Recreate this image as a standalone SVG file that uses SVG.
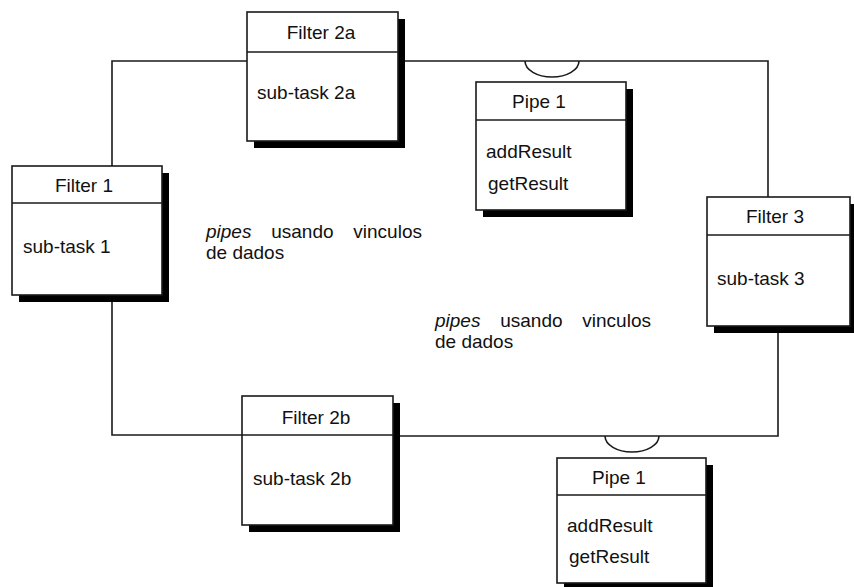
<svg xmlns="http://www.w3.org/2000/svg" width="854" height="587" viewBox="0 0 854 587">
<style>
.box{fill:#fff;stroke:#1a1a1a;stroke-width:1.6}
.sh{fill:#000}
.sep{stroke:#1a1a1a;stroke-width:1.6}
.t{font-family:"Liberation Sans",Arial,sans-serif;font-size:19px;fill:#111}
.c{text-anchor:middle}
.ln{fill:none;stroke:#1a1a1a;stroke-width:1.6}
.w{word-spacing:14.5px}
</style>
<rect width="854" height="587" fill="#fff"/>
<g id="connectors">
<polyline class="ln" points="112,166 112,61 247,61"/>
<polyline class="ln" points="398,61 768,61 768,197"/>
<path class="ln" d="M525,61 A27,16 0 0 0 579,61"/>
<polyline class="ln" points="112,302 112,435 242,435"/>
<polyline class="ln" points="400,436 778,436 778,333"/>
<path class="ln" d="M605,436 A27,16 0 0 0 659,436"/>
</g>
<g id="filter2a">
<rect class="sh" x="254" y="19" width="151" height="129"/>
<rect class="box" x="247" y="12" width="151" height="129"/>
<line class="sep" x1="247" y1="52" x2="398" y2="52"/>
<text class="t c" x="321" y="39">Filter 2a</text>
<text class="t" x="257" y="99">sub-task 2a</text>
</g>
<g id="pipe1a">
<rect class="sh" x="483" y="89" width="150" height="128"/>
<rect class="box" x="476" y="82" width="150" height="128"/>
<line class="sep" x1="476" y1="120" x2="626" y2="120"/>
<text class="t c" x="539" y="108">Pipe 1</text>
<text class="t" x="486" y="158">addResult</text>
<text class="t" x="488" y="190">getResult</text>
</g>
<g id="filter1">
<rect class="sh" x="19" y="173" width="150" height="129"/>
<rect class="box" x="12" y="166" width="150" height="129"/>
<line class="sep" x1="12" y1="203" x2="162" y2="203"/>
<text class="t c" x="84" y="192">Filter 1</text>
<text class="t" x="23" y="253">sub-task 1</text>
</g>
<g id="filter3">
<rect class="sh" x="714" y="204" width="143" height="129"/>
<rect class="box" x="707" y="197" width="143" height="129"/>
<line class="sep" x1="707" y1="235" x2="850" y2="235"/>
<text class="t c" x="775" y="223">Filter 3</text>
<text class="t" x="717" y="285">sub-task 3</text>
</g>
<g id="filter2b">
<rect class="sh" x="249" y="403" width="151" height="129"/>
<rect class="box" x="242" y="396" width="151" height="129"/>
<line class="sep" x1="242" y1="435" x2="393" y2="435"/>
<text class="t c" x="316" y="424">Filter 2b</text>
<text class="t" x="253" y="485">sub-task 2b</text>
</g>
<g id="pipe1b">
<rect class="sh" x="564" y="465" width="149" height="125"/>
<rect class="box" x="557" y="458" width="149" height="125"/>
<line class="sep" x1="557" y1="495" x2="706" y2="495"/>
<text class="t c" x="619" y="484">Pipe 1</text>
<text class="t" x="567" y="532">addResult</text>
<text class="t" x="569" y="563">getResult</text>
</g>
<g id="notes">
<text class="t w" x="206" y="238"><tspan font-style="italic">pipes</tspan> usando vinculos</text>
<text class="t" x="206" y="259">de dados</text>
<text class="t w" x="435" y="327"><tspan font-style="italic">pipes</tspan> usando vinculos</text>
<text class="t" x="435" y="348">de dados</text>
</g>
</svg>
